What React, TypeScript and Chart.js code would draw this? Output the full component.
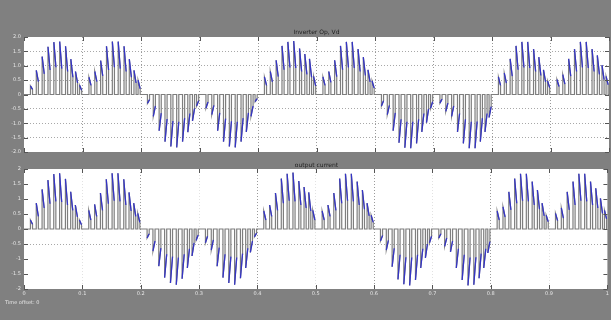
import React, { useEffect, useRef } from "react";
import { Chart, registerables } from "chart.js";
Chart.register(...registerables);

// ---- data ----
const xTicks = [0, 0.1, 0.2, 0.3, 0.4, 0.5, 0.6, 0.7, 0.8, 0.9, 1];
const yTicks = [2, 1.5, 1, 0.5, 0, -0.5, -1, -1.5, -2];
const topTitle = "Inverter Op, Vd";
const bottomTitle = "output current";
const footerText = "Time offset: 0";

const halfCycleStarts = [0, 0.2, 0.4, 0.6, 0.8];
const pulseOffsets = [0.011, 0.021, 0.031, 0.041, 0.051, 0.061, 0.071, 0.080, 0.088, 0.095,
  0.111, 0.121, 0.131, 0.141, 0.151, 0.161, 0.171, 0.180, 0.188, 0.195];
const pulseWidth = 0.0036;

const topPeaks1 = [0.30, 0.84, 1.32, 1.66, 1.82, 1.84, 1.68, 1.23, 0.80, 0.32, 0.60, 0.80, 1.18, 1.68, 1.84, 1.84, 1.68, 1.23, 0.84, 0.50];
const topLows1 = [0.18, 0.45, 0.72, 0.85, 0.95, 0.90, 0.80, 0.60, 0.40, 0.15, 0.32, 0.45, 0.65, 0.85, 0.95, 0.90, 0.80, 0.60, 0.40, 0.20];
const topPeaks2 = [-0.31, -0.76, -1.26, -1.64, -1.81, -1.84, -1.64, -1.31, -0.92, -0.40, -0.48, -0.70, -1.26, -1.64, -1.81, -1.84, -1.64, -1.30, -0.76, -0.25];
const topLows2 = [-0.18, -0.40, -0.65, -0.85, -0.92, -0.95, -0.82, -0.66, -0.48, -0.22, -0.26, -0.38, -0.64, -0.84, -0.93, -0.95, -0.82, -0.64, -0.40, -0.14];
const topPeaks3 = [0.61, 0.80, 1.19, 1.69, 1.83, 1.86, 1.60, 1.41, 1.24, 0.63, 0.61, 0.80, 1.19, 1.69, 1.83, 1.83, 1.58, 1.30, 0.86, 0.47];
const topLows3 = [0.32, 0.44, 0.62, 0.86, 0.94, 0.92, 0.80, 0.70, 0.60, 0.30, 0.32, 0.42, 0.62, 0.86, 0.94, 0.92, 0.80, 0.66, 0.44, 0.22];
const topPeaks4 = [-0.40, -0.70, -1.26, -1.68, -1.85, -1.87, -1.70, -1.30, -0.98, -0.48, -0.30, -0.59, -0.76, -1.30, -1.70, -1.87, -1.87, -1.64, -1.30, -0.80];
const topLows4 = [-0.22, -0.38, -0.64, -0.86, -0.95, -0.95, -0.86, -0.66, -0.50, -0.25, -0.16, -0.30, -0.40, -0.66, -0.86, -0.95, -0.94, -0.82, -0.66, -0.42];
const topPeaks5 = [0.61, 0.74, 1.24, 1.69, 1.83, 1.83, 1.58, 1.30, 0.86, 0.47, 0.52, 0.69, 1.24, 1.58, 1.83, 1.83, 1.58, 1.36, 1.02, 0.63];
const topLows5 = [0.32, 0.40, 0.64, 0.86, 0.94, 0.92, 0.80, 0.66, 0.44, 0.24, 0.28, 0.36, 0.64, 0.80, 0.94, 0.92, 0.80, 0.70, 0.52, 0.34];

const botPeaks1 = [0.30, 0.86, 1.32, 1.63, 1.83, 1.86, 1.67, 1.24, 0.80, 0.30, 0.62, 0.82, 1.20, 1.66, 1.86, 1.86, 1.66, 1.22, 0.86, 0.52];
const botLows1 = [0.16, 0.42, 0.70, 0.84, 0.92, 0.90, 0.80, 0.62, 0.40, 0.14, 0.30, 0.42, 0.62, 0.84, 0.94, 0.92, 0.80, 0.60, 0.42, 0.22];
const botPeaks2 = [-0.30, -0.74, -1.24, -1.62, -1.80, -1.86, -1.66, -1.30, -0.90, -0.38, -0.46, -0.70, -1.24, -1.62, -1.80, -1.86, -1.64, -1.30, -0.78, -0.26];
const botLows2 = [-0.16, -0.40, -0.64, -0.84, -0.92, -0.95, -0.84, -0.66, -0.46, -0.20, -0.24, -0.36, -0.62, -0.84, -0.92, -0.95, -0.82, -0.64, -0.40, -0.14];
const botPeaks3 = [0.60, 0.80, 1.20, 1.68, 1.84, 1.88, 1.60, 1.40, 1.22, 0.62, 0.60, 0.80, 1.20, 1.68, 1.84, 1.84, 1.58, 1.30, 0.86, 0.46];
const botLows3 = [0.30, 0.42, 0.62, 0.86, 0.94, 0.92, 0.80, 0.70, 0.60, 0.30, 0.30, 0.42, 0.62, 0.86, 0.94, 0.92, 0.80, 0.66, 0.44, 0.22];
const botPeaks4 = [-0.40, -0.70, -1.26, -1.68, -1.84, -1.88, -1.70, -1.30, -0.96, -0.46, -0.30, -0.58, -0.76, -1.30, -1.70, -1.88, -1.86, -1.64, -1.30, -0.80];
const botLows4 = [-0.22, -0.38, -0.64, -0.86, -0.94, -0.95, -0.86, -0.66, -0.50, -0.24, -0.16, -0.30, -0.40, -0.66, -0.86, -0.95, -0.94, -0.82, -0.66, -0.42];
const botPeaks5 = [0.60, 0.74, 1.24, 1.68, 1.84, 1.84, 1.58, 1.30, 0.86, 0.46, 0.52, 0.70, 1.24, 1.58, 1.84, 1.84, 1.58, 1.36, 1.02, 0.62];
const botLows5 = [0.30, 0.40, 0.64, 0.86, 0.94, 0.92, 0.80, 0.66, 0.44, 0.24, 0.28, 0.36, 0.64, 0.80, 0.94, 0.92, 0.80, 0.70, 0.52, 0.34];

const topPeaks = [topPeaks1, topPeaks2, topPeaks3, topPeaks4, topPeaks5];
const topLows = [topLows1, topLows2, topLows3, topLows4, topLows5];
const botPeaks = [botPeaks1, botPeaks2, botPeaks3, botPeaks4, botPeaks5];
const botLows = [botLows1, botLows2, botLows3, botLows4, botLows5];

type P = { x: number; y: number | null };

function buildSeries(peaksList: number[][], lowsList: number[][]) {
  const gray: P[] = [{ x: 0, y: 0 }];
  const blue: P[] = [];
  halfCycleStarts.forEach((start, h) => {
    const peaks = peaksList[h];
    const lows = lowsList[h];
    pulseOffsets.forEach((off, k) => {
      const t = start + off;
      const te = t + pulseWidth;
      gray.push({ x: t, y: 0 }, { x: t, y: peaks[k] }, { x: te, y: lows[k] }, { x: te, y: 0 });
      blue.push({ x: t, y: peaks[k] }, { x: te, y: lows[k] }, { x: te, y: null });
    });
  });
  gray.push({ x: 1, y: 0 });
  return { gray, blue };
}

const plotBg = {
  id: "plotBg",
  beforeDraw(chart: any) {
    const { ctx, chartArea: a } = chart;
    ctx.save();
    ctx.fillStyle = "#ffffff";
    ctx.fillRect(a.left, a.top, a.right - a.left, a.bottom - a.top);
    ctx.restore();
  },
};

const inwardTicks = {
  id: "inwardTicks",
  afterDraw(chart: any) {
    const { ctx, chartArea: a, scales } = chart;
    ctx.save();
    ctx.strokeStyle = "#555";
    ctx.lineWidth = 1;
    ctx.beginPath();
    xTicks.forEach((v) => {
      const px = Math.round(scales.x.getPixelForValue(v)) + 0.5;
      ctx.moveTo(px, a.bottom); ctx.lineTo(px, a.bottom - 4);
      ctx.moveTo(px, a.top); ctx.lineTo(px, a.top + 4);
    });
    yTicks.forEach((v) => {
      const py = Math.round(scales.y.getPixelForValue(v)) + 0.5;
      ctx.moveTo(a.left, py); ctx.lineTo(a.left + 4, py);
      ctx.moveTo(a.right, py); ctx.lineTo(a.right - 4, py);
    });
    ctx.stroke();
    ctx.restore();
  },
};

function makeConfig(peaks: number[][], lows: number[][], isBottom: boolean): any {
  const { gray, blue } = buildSeries(peaks, lows);
  return {
    type: "line",
    data: {
      datasets: [
        { data: blue, borderColor: "#3434c6", borderWidth: 1.3, pointRadius: 0, spanGaps: false, tension: 0 },
        { data: gray, borderColor: "#7e7e7e", borderWidth: 1.2, pointRadius: 0, tension: 0 },
      ],
    },
    options: {
      responsive: false,
      animation: false,
      devicePixelRatio: 1,
      layout: { padding: { top: isBottom ? 9 : 37, right: 2, left: 0, bottom: 0 } },
      plugins: { legend: { display: false }, tooltip: { enabled: false }, title: { display: false } },
      scales: {
        x: {
          type: "linear",
          min: 0,
          max: 1,
          afterBuildTicks: (s: any) => { s.ticks = xTicks.map((v) => ({ value: v })); },
          afterFit: (s: any) => { s.height = isBottom ? 31 : 0; },
          ticks: {
            display: isBottom,
            color: "#e6e6e6",
            font: { size: 5, family: "DejaVu Sans" },
            padding: 2,
            maxRotation: 0,
            autoSkip: false,
            callback: (v: number) => String(v),
          },
          grid: {
            drawTicks: false,
            color: (c: any) => {
              const v = c.tick ? c.tick.value : 0;
              if (v === 0 || v === 1) return "rgba(0,0,0,0)";
              if (isBottom) {
                const even = Math.abs(Math.round(v * 10)) % 2 === 0;
                return even ? "#9a9a9a" : "#e2e2e2";
              }
              return "#9a9a9a";
            },
            lineWidth: 1,
          },
          border: { display: false, dash: [1, 2] },
        },
        y: {
          type: "linear",
          min: -2,
          max: 2,
          afterBuildTicks: (s: any) => { s.ticks = yTicks.map((v) => ({ value: v })); },
          afterFit: (s: any) => { s.width = 24; },
          ticks: {
            color: "#e6e6e6",
            font: { size: 5, family: "DejaVu Sans" },
            padding: 3,
            autoSkip: false,
            callback: (v: number) => (isBottom || v === 0 ? String(v) : v.toFixed(1)),
          },
          grid: {
            drawTicks: false,
            color: (c: any) => {
              const v = c.tick ? c.tick.value : 0;
              if (v === 2 || v === -2 || v === 0) return "rgba(0,0,0,0)";
              if (isBottom) return v === -0.5 ? "#a8a8a8" : "rgba(0,0,0,0)";
              return "#a8a8a8";
            },
            lineWidth: 1,
          },
          border: { display: false, dash: [1, 2] },
        },
      },
    },
    plugins: [plotBg, inwardTicks],
  };
}

export default function App() {
  const topRef = useRef<HTMLCanvasElement>(null);
  const botRef = useRef<HTMLCanvasElement>(null);
  useEffect(() => {
    const c1 = new Chart(topRef.current as HTMLCanvasElement, makeConfig(topPeaks, topLows, false));
    const c2 = new Chart(botRef.current as HTMLCanvasElement, makeConfig(botPeaks, botLows, true));
    return () => { c1.destroy(); c2.destroy(); };
  }, []);
  const titleStyle: React.CSSProperties = {
    position: "absolute", left: 24, width: 585, textAlign: "center",
    font: "6px 'DejaVu Sans', sans-serif", color: "#1e1e1e", lineHeight: "7px",
  };
  return (
    <div style={{ position: "fixed", left: 0, top: 0, width: 611, height: 320, background: "#808080", overflow: "hidden" }}>
      <canvas ref={topRef} width={611} height={158} style={{ position: "absolute", left: 0, top: 0, width: 611, height: 158 }} />
      <canvas ref={botRef} width={611} height={160} style={{ position: "absolute", left: 0, top: 160, width: 611, height: 160 }} />
      <div style={{ ...titleStyle, top: 28 }}>{topTitle}</div>
      <div style={{ ...titleStyle, top: 161 }}>{bottomTitle}</div>
      <div style={{ position: "absolute", left: 5, top: 299, font: "5px 'DejaVu Sans', sans-serif", color: "#e6e6e6", lineHeight: "6px" }}>{footerText}</div>
    </div>
  );
}
